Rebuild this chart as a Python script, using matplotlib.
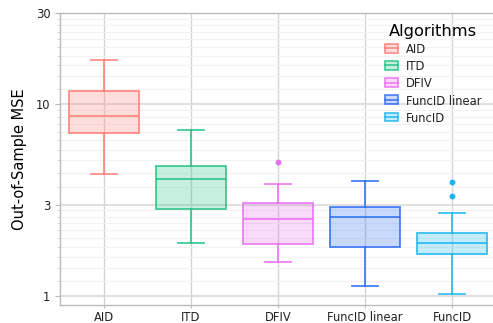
import matplotlib
matplotlib.use("Agg")
import matplotlib.pyplot as plt
import numpy as np
from matplotlib.patches import Patch, Rectangle
from matplotlib.lines import Line2D

# dati (MSE fuori campione)
algorithms = ["AID", "ITD", "DFIV", "FuncID linear", "FuncID"]
colors = ["#FF7B72", "#1FC283", "#EA6CF0", "#2A6AF5", "#18B4F0"]
whislo = [4.32, 1.89, 1.50, 1.13, 1.03]
q1 = [7.09, 2.84, 1.87, 1.80, 1.65]
med = [8.66, 4.07, 2.53, 2.60, 1.89]
q3 = [11.7, 4.79, 3.06, 2.90, 2.13]
whishi = [17.1, 7.32, 3.86, 4.00, 2.71]
fliers = [[], [], [4.99], [], [3.92, 3.31]]
yticks = [1, 3, 10, 30]


class BoxHandler:
    # simbolo della legenda: rettangolo pieno con linea centrale
    def legend_artist(self, legend, orig_handle, fontsize, handlebox):
        x0, y0 = handlebox.xdescent, handlebox.ydescent
        w, h = handlebox.width, handlebox.height
        c = orig_handle.get_edgecolor()
        r = Rectangle((x0, y0), w, h, facecolor=orig_handle.get_facecolor(),
                      edgecolor=c, linewidth=1.2, transform=handlebox.get_transform())
        l = Line2D([x0, x0 + w], [y0 + h / 2, y0 + h / 2], color=c, linewidth=1.2,
                   transform=handlebox.get_transform())
        handlebox.add_artist(r)
        handlebox.add_artist(l)
        return r


fig = plt.figure(figsize=(4.93, 3.23), dpi=100)
ax = fig.add_axes([60 / 493, 18 / 323, 433 / 493, 292 / 323])

stats = []
for i, name in enumerate(algorithms):
    stats.append(dict(label=name, whislo=whislo[i], q1=q1[i], med=med[i],
                      q3=q3[i], whishi=whishi[i], fliers=fliers[i]))

pos = np.arange(len(algorithms))
bp = ax.bxp(stats, positions=pos, widths=0.8, capwidths=0.3,
            patch_artist=True, showfliers=True)
lw = 1.3
for i, c in enumerate(colors):
    bp["boxes"][i].set(facecolor=matplotlib.colors.to_rgba(c, 0.25),
                       edgecolor=matplotlib.colors.to_rgba(c, 0.85), linewidth=lw, zorder=3)
    bp["medians"][i].set(color=c, alpha=0.85, linewidth=lw, zorder=4)
    for k in (2 * i, 2 * i + 1):
        bp["whiskers"][k].set(color=c, alpha=0.85, linewidth=lw, zorder=3)
        bp["caps"][k].set(color=c, alpha=0.85, linewidth=lw, zorder=3)
    bp["fliers"][i].set(marker="o", markerfacecolor=c, markeredgecolor=c,
                        markersize=3.2, zorder=4)

ax.set_yscale("log")
ax.set_ylim(0.898, 30)
ax.set_xlim(-0.506, 4.47)

# griglia minore: 10 suddivisioni lineari tra i tick principali
minor = []
for a, b in zip(yticks[:-1], yticks[1:]):
    minor.extend(np.linspace(a, b, 11)[1:-1])
ax.set_yticks(yticks, labels=[str(t) for t in yticks])
ax.set_yticks(minor, minor=True)
ax.yaxis.set_minor_formatter(matplotlib.ticker.NullFormatter())
ax.set_xticks(pos, labels=algorithms)

ax.grid(axis="y", which="major", color="#dcdcdc", linewidth=1.3, zorder=0)
ax.grid(axis="y", which="minor", color="#f2f2f2", linewidth=0.8, zorder=0)
ax.grid(axis="x", which="major", color="#d4d4d4", linewidth=1.0, zorder=0)
ax.set_axisbelow(True)

ax.tick_params(axis="both", which="major", labelsize=8.3, color="#bbbbbb",
               length=3.5, labelcolor="#222222")
ax.tick_params(axis="y", which="minor", color="#cccccc", length=2)
ax.tick_params(axis="x", pad=1.5, length=2.5)
for s in ["left", "bottom", "top"]:
    ax.spines[s].set_color("#bbbbbb")
    ax.spines[s].set_linewidth(1.0)
ax.spines["right"].set_visible(False)

ax.set_ylabel("Out-of-Sample MSE", fontsize=10.5, labelpad=6)

handles = [Patch(facecolor=matplotlib.colors.to_rgba(c, 0.25),
                 edgecolor=matplotlib.colors.to_rgba(c, 0.85)) for c in colors]
leg = ax.legend(handles, algorithms, title="Algorithms", frameon=False,
                loc="upper left", bbox_to_anchor=(385 / 493, 1 - 24 / 323),
                bbox_transform=fig.transFigure, borderpad=0, borderaxespad=0,
                fontsize=8.3, title_fontsize=11.7, handlelength=1.1,
                handleheight=0.8, handletextpad=0.75, labelspacing=0.36,
                handler_map={Patch: BoxHandler()})
for t in leg.get_texts():
    t.set_color("#222222")

fig.savefig("out.png", dpi=100)
